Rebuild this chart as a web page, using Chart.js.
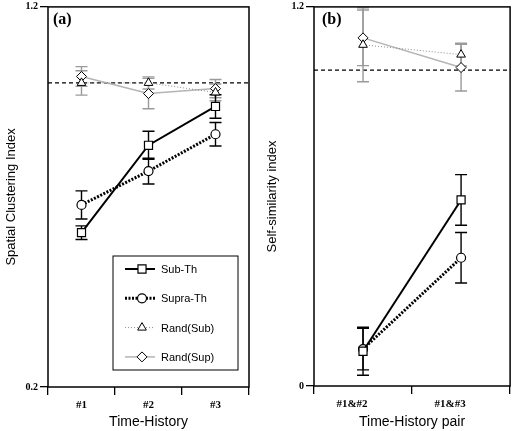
<!DOCTYPE html>
<html><head><meta charset="utf-8">
<script src="https://cdn.jsdelivr.net/npm/chart.js@4.4.1/dist/chart.umd.min.js"></script>
<style>
html,body{margin:0;padding:0;background:#fff;}
#wrap{position:relative;width:517px;height:431px;}
.panel{position:absolute;top:0;height:431px;}
#pa{left:0;width:258px;}
#pb{left:258px;width:259px;}
</style></head><body>
<div id="wrap">
  <div class="panel" id="pa"><canvas id="chartA" width="258" height="431"></canvas></div>
  <div class="panel" id="pb"><canvas id="chartB" width="259" height="431"></canvas></div>
</div>
<script>
// panel (a)
const labelsA = ['#1', '#2', '#3'];
const subThA = [0.606, 0.836, 0.938];
const subThErrA = [0.018, 0.037, 0.031];
const supraThA = [0.679, 0.768, 0.865];
const supraThErrA = [0.037, 0.034, 0.031];
const randSubA = [1.0, 1.0, 0.975];
const randSubErrA = [0.032, 0.016, 0.022];
const randSupA = [1.017, 0.972, 0.985];
const randSupErrA = [0.026, 0.04, 0.024];
const yTicksA = [0.2, 1.2];

// panel (b)
const labelsB = ['#1&#2', '#1&#3'];
const subThB = [0.11, 0.589];
const subThErrB = [0.076, 0.08];
const supraThB = [0.117, 0.406];
const supraThErrB = [0.066, 0.08];
const randSubB = [1.08, 1.049];
const randSubErrB = [0.117, 0.036];
const randSupB = [1.102, 1.008];
const randSupErrB = [0.088, 0.074];
const yTicksB = [0, 1.2];

const refLevel = 1.0;

function makeDatasets(sub, subErr, supra, supraErr, rsub, rsubErr, rsup, rsupErr) {
  return [
    { label: 'Rand(Sup)', data: rsup, errors: rsupErr, errColor: '#9a9a9a',
      borderColor: '#b4b4b4', borderWidth: 1.5, pointStyle: 'rectRot', pointRadius: 5,
      pointBackgroundColor: '#fff', pointBorderColor: '#000', pointBorderWidth: 1, order: 4 },
    { label: 'Rand(Sub)', data: rsub, errors: rsubErr, errColor: '#9a9a9a',
      borderColor: '#8a8a8a', borderWidth: 1, borderDash: [1, 2], pointStyle: 'triangle', pointRadius: 5,
      pointBackgroundColor: '#fff', pointBorderColor: '#000', pointBorderWidth: 1, order: 3 },
    { label: 'Supra-Th', data: supra, errors: supraErr, errColor: '#000',
      borderColor: '#000', borderWidth: 3, borderDash: [2, 1.5], pointStyle: 'circle', pointRadius: 4.5,
      pointBackgroundColor: '#fff', pointBorderColor: '#000', pointBorderWidth: 1.2, order: 2 },
    { label: 'Sub-Th', data: sub, errors: subErr, errColor: '#000',
      borderColor: '#000', borderWidth: 2, pointStyle: 'rect', pointRadius: 5.7,
      pointBackgroundColor: '#fff', pointBorderColor: '#000', pointBorderWidth: 1.2, order: 1 },
  ];
}

const decor = {
  id: 'decor',
  beforeDatasetsDraw(chart, args, opts) {
    const { ctx, chartArea: a, scales } = chart;
    const y = scales.y, x = scales.x;
    ctx.save();
    // reference line
    ctx.strokeStyle = '#000';
    ctx.lineWidth = 1.3;
    ctx.setLineDash([4, 3]);
    ctx.beginPath();
    const yr = y.getPixelForValue(refLevel);
    ctx.moveTo(a.left, yr);
    ctx.lineTo(a.right, yr);
    ctx.stroke();
    ctx.setLineDash([]);
    // error bars
    chart.data.datasets.forEach((ds) => {
      ctx.strokeStyle = ds.errColor;
      ctx.lineWidth = 1.4;
      ds.data.forEach((v, i) => {
        const px = x.getPixelForValue(i);
        const hi = y.getPixelForValue(v + ds.errors[i]);
        const lo = y.getPixelForValue(v - ds.errors[i]);
        ctx.beginPath();
        ctx.moveTo(px, hi); ctx.lineTo(px, lo);
        ctx.moveTo(px - 6, hi); ctx.lineTo(px + 6, hi);
        ctx.moveTo(px - 6, lo); ctx.lineTo(px + 6, lo);
        ctx.stroke();
      });
    });
    ctx.restore();
  },
  afterDraw(chart, args, opts) {
    const { ctx, chartArea: a } = chart;
    ctx.save();
    ctx.strokeStyle = '#000';
    ctx.lineWidth = 1.5;
    ctx.strokeRect(a.left, a.top, a.right - a.left, a.bottom - a.top);
    ctx.fillStyle = '#000';
    ctx.font = 'bold 16px "Liberation Serif", serif';
    ctx.textBaseline = 'alphabetic';
    ctx.fillText(opts.tag, a.left + opts.tagDx, 24);

    if (opts.legend) {
      const L = opts.legend;
      ctx.lineWidth = 1;
      ctx.strokeRect(L.x, L.y, L.w, L.h);
      const order = ['Sub-Th', 'Supra-Th', 'Rand(Sub)', 'Rand(Sup)'];
      ctx.font = '11px "Liberation Sans", Arial, sans-serif';
      ctx.textBaseline = 'middle';
      order.forEach((name, k) => {
        const ds = chart.data.datasets.find((d) => d.label === name);
        const ly = L.y + 13 + k * 29.3;
        ctx.save();
        ctx.strokeStyle = ds.borderColor;
        ctx.lineWidth = ds.borderWidth;
        ctx.setLineDash(ds.borderDash || []);
        ctx.beginPath();
        ctx.moveTo(L.x + 12, ly);
        ctx.lineTo(L.x + 42, ly);
        ctx.stroke();
        ctx.restore();
        ctx.fillStyle = ds.pointBackgroundColor;
        ctx.strokeStyle = ds.pointBorderColor;
        ctx.lineWidth = ds.pointBorderWidth;
        Chart.helpers.drawPoint(ctx, { pointStyle: ds.pointStyle, radius: ds.pointRadius, borderWidth: ds.pointBorderWidth, rotation: 0 }, L.x + 29, ly);
        ctx.fillStyle = '#000';
        ctx.fillText(name, L.x + 48, ly + 1);
      });
    }
    ctx.restore();
  },
};

function makeChart(id, labels, datasets, yMin, yMax, yTicks, yW, xH, yTitle, xTitle, yTitlePad, decorOpts, padRight, tickOffset) {
  return new Chart(document.getElementById(id), {
    type: 'line',
    data: { labels, datasets },
    plugins: [decor],
    options: {
      responsive: false,
      animation: false,
      devicePixelRatio: 1,
      layout: { padding: { top: 5, right: padRight, left: 0, bottom: 0 } },
      plugins: { legend: { display: false }, tooltip: { enabled: false }, decor: decorOpts },
      scales: {
        x: {
          type: 'category',
          offset: true,
          border: { display: false },
          grid: { offset: true, drawOnChartArea: false, drawTicks: true, tickLength: 8, color: '#000', lineWidth: 1.3 },
          ticks: { color: '#000', padding: 4, labelOffset: tickOffset, maxRotation: 0,
                   font: { family: '"Liberation Serif", serif', weight: 'bold', size: 11 } },
          title: { display: true, text: xTitle, color: '#000', padding: { top: 0, bottom: 0 },
                   font: { family: '"Liberation Sans", Arial, sans-serif', size: 14 } },
          afterFit(s) { s.height = xH; s.paddingLeft = 0; s.paddingRight = 0; },
        },
        y: {
          min: yMin, max: yMax,
          border: { display: false },
          grid: { drawOnChartArea: false, drawTicks: true, tickLength: 8, color: '#000', lineWidth: 1.3 },
          afterBuildTicks(s) { s.ticks = yTicks.map((v) => ({ value: v })); },
          ticks: { color: '#000', padding: 2,
                   callback: (v) => (v === 0 ? '0' : v.toFixed(1)),
                   font: { family: '"Liberation Serif", serif', weight: 'bold', size: 10 } },
          title: { display: true, text: yTitle, color: '#000', padding: { top: yTitlePad, bottom: 0 },
                   font: { family: '"Liberation Sans", Arial, sans-serif', size: 13 } },
          afterFit(s) { s.width = yW; s.paddingTop = 0; s.paddingBottom = 0; },
        },
      },
    },
  });
}

makeChart('chartA', labelsA,
  makeDatasets(subThA, subThErrA, supraThA, supraThErrA, randSubA, randSubErrA, randSupA, randSupErrA),
  0.2, 1.2, yTicksA, 48, 44, 'Spatial Clustering Index', 'Time-History', 4,
  { tag: '(a)', tagDx: 5, legend: { x: 113, y: 256, w: 125, h: 114 } }, 9, 0);

makeChart('chartB', labelsB,
  makeDatasets(subThB, subThErrB, supraThB, supraThErrB, randSubB, randSubErrB, randSupB, randSupErrB),
  0, 1.2, yTicksB, 56, 45, 'Self-similarity index', 'Time-History pair', 7,
  { tag: '(b)', tagDx: 8, legend: null }, 1, -11);
</script>
</body></html>
